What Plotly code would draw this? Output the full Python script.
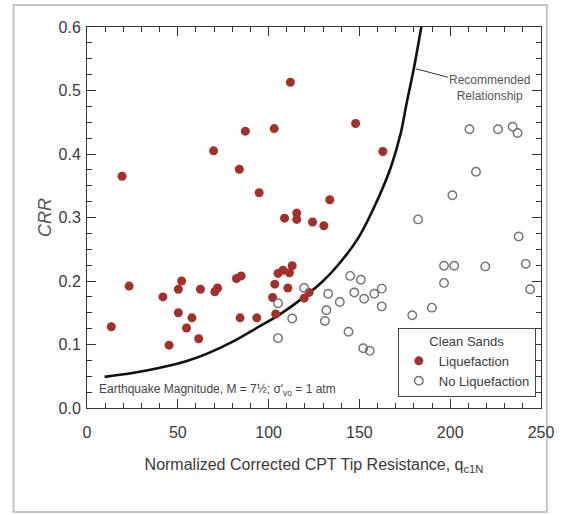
import plotly.graph_objects as go

# Liquefaction (filled red)
liq_x = [13.4, 19.3, 23.2, 41.8, 45.2, 50.3, 50.3, 52.1, 54.8, 57.8, 61.5, 62.5, 69.7, 70.4,
         71.9, 82.3, 84.9, 83.9, 84.3, 87.2, 93.5, 94.8, 112.0, 102.2, 103.4, 103.9, 103.1,
         105.2, 108.8, 107.9, 110.6, 111.5, 113.0, 115.5, 115.5, 119.6, 122.3, 124.2, 130.4,
         133.7, 147.9, 162.9]
liq_y = [0.128, 0.365, 0.192, 0.175, 0.099, 0.187, 0.150, 0.200, 0.126, 0.142, 0.109, 0.187,
         0.405, 0.183, 0.189, 0.204, 0.208, 0.376, 0.142, 0.436, 0.142, 0.339, 0.513, 0.174,
         0.195, 0.148, 0.440, 0.212, 0.299, 0.217, 0.189, 0.213, 0.224, 0.307, 0.297, 0.173,
         0.182, 0.293, 0.287, 0.328, 0.448, 0.404]

# No liquefaction (open circles)
noliq_x = [105.2, 105.2, 113.0, 119.6, 132.8, 139.2, 131.8, 131.0, 144.9, 150.8, 147.2, 152.6,
           158.2, 162.3, 162.3, 144.0, 152.1, 155.7, 179.1, 189.9, 210.6, 226.3, 234.4, 237.1,
           214.2, 201.2, 182.3, 196.6, 202.2, 219.3, 196.6, 237.7, 241.6, 244.0]
noliq_y = [0.165, 0.110, 0.141, 0.189, 0.180, 0.167, 0.154, 0.137, 0.208, 0.202, 0.182, 0.172,
           0.180, 0.188, 0.160, 0.120, 0.094, 0.090, 0.146, 0.158, 0.439, 0.439, 0.443, 0.433,
           0.372, 0.335, 0.297, 0.224, 0.224, 0.223, 0.197, 0.270, 0.227, 0.187]

# Recommended relationship curve
curve_x = [9.7, 25.0, 39.5, 55.0, 66.5, 80.0, 93.5, 106.0, 119.6, 130.0, 138.5, 149.4, 160.0,
           167.4, 172.8, 176.0, 180.0, 184.1]
curve_y = [0.049, 0.055, 0.063, 0.074, 0.086, 0.104, 0.126, 0.147, 0.175, 0.200, 0.226, 0.268,
           0.328, 0.380, 0.433, 0.480, 0.535, 0.600]

FONT = "Liberation Sans, Arial, sans-serif"
TXT = "#3a3a3a"

fig = go.Figure()
fig.add_trace(go.Scatter(
    x=curve_x, y=curve_y, mode="lines", line=dict(color="#111111", width=2.6, shape="spline",
                                                  smoothing=0.8),
    showlegend=False, hoverinfo="skip"))
fig.add_trace(go.Scatter(
    x=liq_x, y=liq_y, mode="markers", name="Liquefaction",
    marker=dict(color="#a3302b", size=9, line=dict(width=0))))
fig.add_trace(go.Scatter(
    x=noliq_x, y=noliq_y, mode="markers", name="No Liquefaction",
    marker=dict(color="#727272", size=8.5, symbol="circle-open",
                line=dict(color="#727272", width=1.4))))

W, H = 566, 515
L, R, T, B = 87, 16, 27, 107
pw, ph = W - L - R, H - T - B

def px(xp):
    return (xp - L) / pw

def py(yp):
    return (H - B - yp) / ph

fig.update_layout(
    width=W, height=H,
    margin=dict(l=L, r=R, t=T, b=B),
    paper_bgcolor="white", plot_bgcolor="white",
    font=dict(family=FONT, color=TXT),
    xaxis=dict(range=[0, 250], tickmode="linear", tick0=0, dtick=50, ticks="inside", ticklen=9,
               tickwidth=1, tickcolor="#333", showline=True, linecolor="#333", linewidth=1,
               mirror="ticks", showgrid=False, zeroline=False, tickfont=dict(size=16, color=TXT),
               ticklabelstandoff=10,
               minor=dict(tick0=0, dtick=10, ticks="inside", ticklen=5, tickwidth=1,
                          tickcolor="#333", showgrid=False),
               title=dict(text="Normalized Corrected CPT Tip Resistance, q<sub>c1N</sub>",
                          font=dict(size=16, color=TXT), standoff=18)),
    yaxis=dict(range=[0, 0.6], tickmode="linear", tick0=0, dtick=0.1, tickformat=".1f",
               ticks="inside", ticklen=9,
               tickwidth=1, tickcolor="#333", showline=True, linecolor="#333", linewidth=1,
               mirror="ticks", showgrid=False, zeroline=False, tickfont=dict(size=16, color=TXT),
               ticklabelstandoff=2,
               minor=dict(tick0=0, dtick=0.025, ticks="inside", ticklen=5, tickwidth=1,
                          tickcolor="#333", showgrid=False),
               title=dict(text="<i>CRR</i>", font=dict(size=18, color="#555"), standoff=2)),
    legend=dict(x=px(404), y=py(328), xanchor="left", yanchor="top",
                bordercolor="#444", borderwidth=1, bgcolor="white",
                font=dict(size=13, color=TXT),
                title=dict(text="Clean Sands", side="top center", font=dict(size=13, color=TXT)),
                tracegroupgap=0),
    showlegend=True,
)

# Outer frame of the image
fig.add_shape(type="rect", xref="paper", yref="paper",
              x0=px(12), x1=px(556), y0=py(512), y1=py(5),
              line=dict(color="#c4c4c4", width=2), layer="below")

fig.add_annotation(x=curve_x[-2], y=curve_y[-2], xref="x", yref="y",
                   text="Recommended<br>Relationship", showarrow=True,
                   ax=76, ay=20, axref="pixel", ayref="pixel",
                   arrowhead=0, arrowwidth=1, arrowcolor="#333", standoff=2,
                   font=dict(size=12, color="#555"), align="center")

fig.add_annotation(x=px(97), y=py(390), xref="paper", yref="paper", xanchor="left",
                   yanchor="middle", showarrow=False,
                   text="Earthquake Magnitude, M = 7½; σ′<sub>vo</sub> = 1 atm",
                   font=dict(size=12, color="#444"))

fig.write_html("out.html")
